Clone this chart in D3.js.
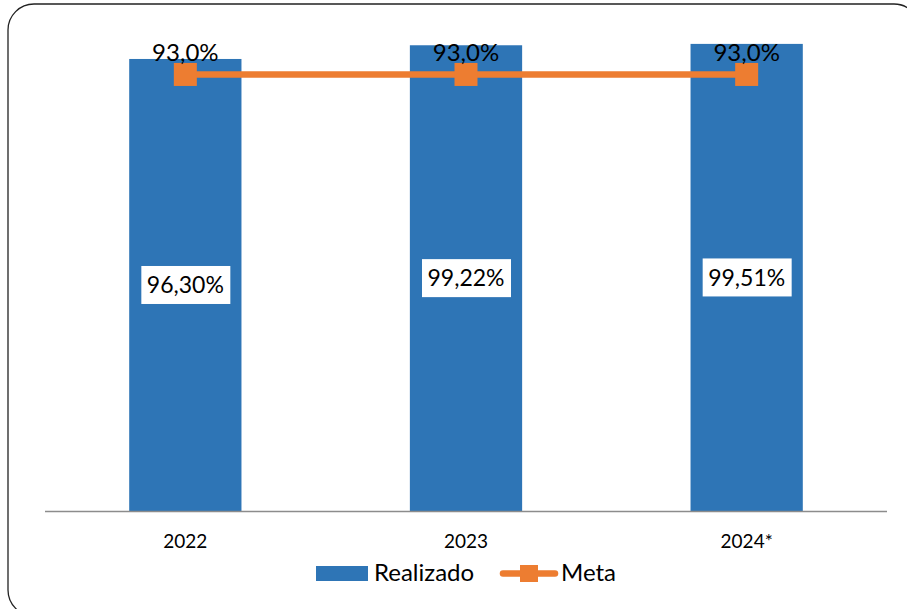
<!DOCTYPE html>
<html lang="pt">
<head>
<meta charset="UTF-8">
<title>Realizado x Meta</title>
<script src="https://d3js.org/d3.v7.min.js"></script>
<style>
  body { margin: 0; background: #fff; }
  text { font-family: Lato, "Open Sans", sans-serif; fill: #000; }
</style>
</head>
<body>
<div id="chart"></div>
<script>
// data
var years = ["2022", "2023", "2024*"];
var realizado = [96.30, 99.22, 99.51];
var meta = [93.0, 93.0, 93.0];
var realizadoLabels = ["96,30%", "99,22%", "99,51%"];
var metaLabels = ["93,0%", "93,0%", "93,0%"];

var width = 907, height = 609;
var blue = "#2E75B6", orange = "#ED7D31";

var svg = d3.select("#chart").append("svg")
    .attr("width", width)
    .attr("height", height);

// frame
svg.append("rect")
    .attr("x", 8).attr("y", 4)
    .attr("width", 912).attr("height", 612)
    .attr("rx", 26).attr("ry", 26)
    .attr("fill", "none")
    .attr("stroke", "#222")
    .attr("stroke-width", 1.3);

var x = d3.scaleBand()
    .domain(years)
    .range([45, 887])
    .paddingInner(0.6)
    .paddingOuter(0.3);

var y = d3.scaleLinear()
    .domain([0, 100])
    .range([511, 41.6]);

// bars
svg.append("g").selectAll("rect")
    .data(years)
    .enter().append("rect")
    .attr("x", function (d) { return x(d); })
    .attr("y", function (d, i) { return y(realizado[i]); })
    .attr("width", x.bandwidth())
    .attr("height", function (d, i) { return y(0) - y(realizado[i]); })
    .attr("fill", blue);

// baseline
svg.append("line")
    .attr("x1", 45).attr("x2", 887)
    .attr("y1", y(0) + 0.5).attr("y2", y(0) + 0.5)
    .attr("stroke", "#8c8c8c")
    .attr("stroke-width", 1.6);

// x labels
svg.append("g").selectAll("text")
    .data(years)
    .enter().append("text")
    .attr("x", function (d) { return x(d) + x.bandwidth() / 2; })
    .attr("y", 548)
    .attr("text-anchor", "middle")
    .style("font-size", "19px")
    .text(function (d) { return d; });

// bar value labels
var lab = svg.append("g").selectAll("g")
    .data(years)
    .enter().append("g")
    .attr("transform", function (d, i) {
        var cy = (y(realizado[i]) + y(0)) / 2;
        return "translate(" + (x(d) + x.bandwidth() / 2) + "," + cy + ")";
    });
lab.append("rect")
    .attr("x", -44).attr("y", -19)
    .attr("width", 89).attr("height", 38)
    .attr("fill", "#fff");
lab.append("text")
    .attr("text-anchor", "middle")
    .attr("dy", "0.36em")
    .style("font-size", "23px")
    .text(function (d, i) { return realizadoLabels[i]; });

// meta line
var line = d3.line()
    .x(function (d, i) { return x(years[i]) + x.bandwidth() / 2; })
    .y(function (d) { return y(d); });

svg.append("path")
    .datum(meta)
    .attr("d", line)
    .attr("fill", "none")
    .attr("stroke", orange)
    .attr("stroke-width", 6.5);

svg.append("g").selectAll("rect")
    .data(meta)
    .enter().append("rect")
    .attr("x", function (d, i) { return x(years[i]) + x.bandwidth() / 2 - 11.5; })
    .attr("y", function (d) { return y(d) - 11.5; })
    .attr("width", 23).attr("height", 23)
    .attr("fill", orange);

svg.append("g").selectAll("text")
    .data(meta)
    .enter().append("text")
    .attr("x", function (d, i) { return x(years[i]) + x.bandwidth() / 2; })
    .attr("y", function (d) { return y(d) - 13; })
    .attr("text-anchor", "middle")
    .style("font-size", "24px")
    .text(function (d, i) { return metaLabels[i]; });

// legend
var leg = svg.append("g");
leg.append("rect")
    .attr("x", 316).attr("y", 566)
    .attr("width", 52).attr("height", 15)
    .attr("fill", blue);
leg.append("text")
    .attr("x", 374).attr("y", 581)
    .style("font-size", "24px")
    .text("Realizado");
leg.append("line")
    .attr("x1", 503).attr("x2", 555)
    .attr("y1", 573.5).attr("y2", 573.5)
    .attr("stroke", orange)
    .attr("stroke-width", 6.5)
    .attr("stroke-linecap", "round");
leg.append("rect")
    .attr("x", 520).attr("y", 565)
    .attr("width", 18).attr("height", 17)
    .attr("fill", orange);
leg.append("text")
    .attr("x", 561).attr("y", 581)
    .style("font-size", "24px")
    .text("Meta");
</script>
</body>
</html>
